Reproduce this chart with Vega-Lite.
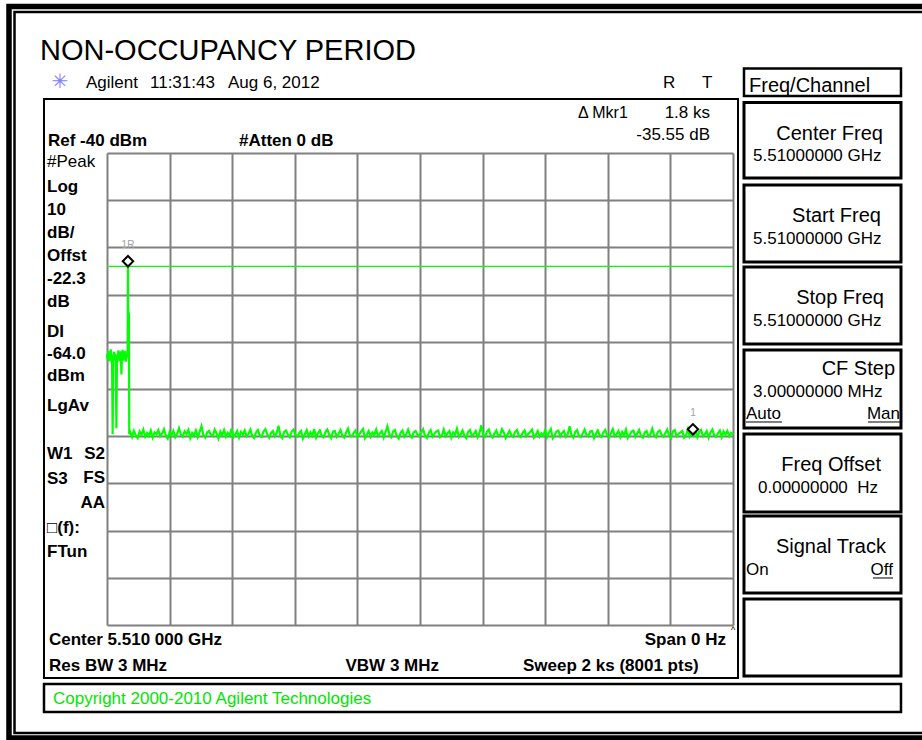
{
"$schema": "https://vega.github.io/schema/vega-lite/v6.json",
"width": 626, "height": 472,
"autosize": {"type": "none"},
"padding": {"left": 107, "top": 153, "right": 189, "bottom": 115},
"background": "white",
"config": {
  "view": {"stroke": null},
  "font": "Liberation Sans",
  "text": {"font": "Liberation Sans", "fontSize": 17, "baseline": "alphabetic", "align": "left", "color": "#000000"},
  "axis": {"labels": false, "ticks": false, "domain": false, "grid": true, "gridColor": "#808080", "gridWidth": 2, "gridOpacity": 1, "titleOpacity": 0}
},
"layer": [
  {
    "data": {"values": [{"level": -64}]},
    "mark": {"type": "rule", "color": "#00ff00", "strokeWidth": 1.2},
    "encoding": {"y": {"field": "level", "type": "quantitative", "scale": {"domain": [-140, -40], "nice": false, "zero": false}}}
  },
  {
    "data": {"values": [
{"t":0,"v":-82.6},{"t":2,"v":-83.8},{"t":4,"v":-81.9},{"t":6,"v":-84.1},{"t":8,"v":-82.7},{"t":10,"v":-83.5},{"t":12,"v":-81.6},{"t":14,"v":-84.3},{"t":16,"v":-82.9},{"t":18,"v":-99.6},{"t":20,"v":-83.2},{"t":22,"v":-82.1},{"t":24,"v":-84.0},{"t":26,"v":-82.5},{"t":28,"v":-83.6},{"t":30,"v":-98.3},{"t":32,"v":-82.8},{"t":34,"v":-84.2},{"t":36,"v":-81.8},{"t":38,"v":-83.4},{"t":40,"v":-82.3},{"t":42,"v":-84.1},{"t":44,"v":-82.0},{"t":46,"v":-86.9},{"t":48,"v":-83.0},{"t":50,"v":-81.7},{"t":52,"v":-84.0},{"t":54,"v":-82.6},{"t":56,"v":-83.7},{"t":58,"v":-81.9},{"t":60,"v":-84.2},{"t":62,"v":-82.8},{"t":64,"v":-83.3},{"t":66,"v":-82.4},{"t":67,"v":-64.0},{"t":68,"v":-83.1},{"t":69,"v":-82.7},{"t":70,"v":-73.8},{"t":71,"v":-99.6},
{"t":74,"v":-99.1},{"t":80,"v":-100.2},{"t":86,"v":-98.9},{"t":92,"v":-99.8},{"t":98,"v":-100.4},{"t":104,"v":-99.0},{"t":110,"v":-99.7},{"t":116,"v":-98.6},{"t":122,"v":-100.1},{"t":128,"v":-99.3},
{"t":134,"v":-99.9},{"t":140,"v":-98.8},{"t":146,"v":-100.3},{"t":152,"v":-99.2},{"t":158,"v":-99.6},{"t":164,"v":-98.7},{"t":170,"v":-100.0},{"t":176,"v":-99.4},{"t":182,"v":-98.5},{"t":188,"v":-99.9},
{"t":194,"v":-100.5},{"t":200,"v":-99.1},{"t":206,"v":-99.8},{"t":212,"v":-98.9},{"t":218,"v":-100.2},{"t":224,"v":-99.5},{"t":230,"v":-98.3},{"t":236,"v":-99.7},{"t":242,"v":-100.1},{"t":248,"v":-99.0},
{"t":254,"v":-99.6},{"t":260,"v":-98.7},{"t":266,"v":-100.4},{"t":272,"v":-99.3},{"t":278,"v":-99.9},{"t":284,"v":-98.8},{"t":290,"v":-100.2},{"t":296,"v":-99.1},{"t":302,"v":-97.9},{"t":308,"v":-99.8},
{"t":314,"v":-100.3},{"t":320,"v":-99.2},{"t":326,"v":-98.9},{"t":332,"v":-99.7},{"t":338,"v":-100.0},{"t":344,"v":-98.6},{"t":350,"v":-99.4},{"t":356,"v":-100.5},{"t":362,"v":-99.0},{"t":368,"v":-99.8},
{"t":374,"v":-98.7},{"t":380,"v":-100.1},{"t":386,"v":-99.3},{"t":392,"v":-99.9},{"t":398,"v":-98.4},{"t":404,"v":-100.2},{"t":410,"v":-99.6},{"t":416,"v":-98.9},{"t":422,"v":-100.3},{"t":428,"v":-99.1},
{"t":434,"v":-99.7},{"t":440,"v":-98.8},{"t":446,"v":-100.0},{"t":452,"v":-99.5},{"t":458,"v":-98.6},{"t":464,"v":-99.9},{"t":470,"v":-100.4},{"t":476,"v":-99.2},{"t":482,"v":-98.7},{"t":488,"v":-99.8},
{"t":494,"v":-100.1},{"t":500,"v":-99.0},{"t":506,"v":-98.5},{"t":512,"v":-99.6},{"t":518,"v":-100.3},{"t":524,"v":-99.3},{"t":530,"v":-98.9},{"t":536,"v":-100.0},{"t":542,"v":-99.4},{"t":548,"v":-97.8},
{"t":554,"v":-99.9},{"t":560,"v":-100.4},{"t":566,"v":-99.1},{"t":572,"v":-98.8},{"t":578,"v":-99.7},{"t":584,"v":-100.2},{"t":590,"v":-99.0},{"t":596,"v":-98.6},{"t":602,"v":-99.8},{"t":608,"v":-100.1},
{"t":614,"v":-99.3},{"t":620,"v":-98.9},{"t":626,"v":-100.5},{"t":632,"v":-99.6},{"t":638,"v":-98.7},{"t":644,"v":-100.0},{"t":650,"v":-99.2},{"t":656,"v":-99.9},{"t":662,"v":-98.5},{"t":668,"v":-100.3},
{"t":674,"v":-99.4},{"t":680,"v":-98.8},{"t":686,"v":-99.9},{"t":692,"v":-100.2},{"t":698,"v":-99.1},{"t":704,"v":-98.6},{"t":710,"v":-99.7},{"t":716,"v":-100.4},{"t":722,"v":-99.0},{"t":728,"v":-98.9},
{"t":734,"v":-100.1},{"t":740,"v":-99.5},{"t":746,"v":-98.7},{"t":752,"v":-99.8},{"t":758,"v":-100.3},{"t":764,"v":-99.2},{"t":770,"v":-98.4},{"t":776,"v":-99.9},{"t":782,"v":-100.0},{"t":788,"v":-99.3},
{"t":794,"v":-98.8},{"t":800,"v":-100.2},{"t":806,"v":-99.6},{"t":812,"v":-99.0},{"t":818,"v":-98.5},{"t":824,"v":-100.4},{"t":830,"v":-99.7},{"t":836,"v":-98.9},{"t":842,"v":-100.1},{"t":848,"v":-99.2},
{"t":854,"v":-99.8},{"t":860,"v":-98.6},{"t":866,"v":-100.0},{"t":872,"v":-99.4},{"t":878,"v":-98.9},{"t":884,"v":-100.3},{"t":890,"v":-99.1},{"t":896,"v":-97.9},{"t":902,"v":-99.7},{"t":908,"v":-100.2},
{"t":914,"v":-99.0},{"t":920,"v":-98.7},{"t":926,"v":-99.9},{"t":932,"v":-100.5},{"t":938,"v":-99.3},{"t":944,"v":-98.8},{"t":950,"v":-100.1},{"t":956,"v":-99.6},{"t":962,"v":-98.6},{"t":968,"v":-99.8},
{"t":974,"v":-100.3},{"t":980,"v":-99.2},{"t":986,"v":-98.9},{"t":992,"v":-99.7},{"t":998,"v":-100.0},{"t":1004,"v":-99.1},{"t":1010,"v":-98.5},{"t":1016,"v":-99.9},{"t":1022,"v":-100.4},{"t":1028,"v":-99.3},
{"t":1034,"v":-98.7},{"t":1040,"v":-100.1},{"t":1046,"v":-99.5},{"t":1052,"v":-99.0},{"t":1058,"v":-98.8},{"t":1064,"v":-100.2},{"t":1070,"v":-99.8},{"t":1076,"v":-98.6},{"t":1082,"v":-100.0},{"t":1088,"v":-99.4},
{"t":1094,"v":-98.9},{"t":1100,"v":-100.3},{"t":1106,"v":-99.2},{"t":1112,"v":-99.7},{"t":1118,"v":-98.4},{"t":1124,"v":-100.1},{"t":1130,"v":-99.6},{"t":1136,"v":-98.8},{"t":1142,"v":-99.9},{"t":1148,"v":-100.4},
{"t":1154,"v":-99.1},{"t":1160,"v":-98.7},{"t":1166,"v":-100.0},{"t":1172,"v":-99.5},{"t":1178,"v":-98.9},{"t":1184,"v":-100.2},{"t":1190,"v":-99.3},{"t":1196,"v":-97.7},{"t":1202,"v":-99.8},{"t":1208,"v":-100.1},
{"t":1214,"v":-99.0},{"t":1220,"v":-98.6},{"t":1226,"v":-99.9},{"t":1232,"v":-100.3},{"t":1238,"v":-99.4},{"t":1244,"v":-98.8},{"t":1250,"v":-100.0},{"t":1256,"v":-99.7},{"t":1262,"v":-98.5},{"t":1268,"v":-99.2},
{"t":1274,"v":-100.4},{"t":1280,"v":-99.6},{"t":1286,"v":-98.9},{"t":1292,"v":-99.8},{"t":1298,"v":-100.1},{"t":1304,"v":-99.1},{"t":1310,"v":-98.7},{"t":1316,"v":-99.9},{"t":1322,"v":-100.2},{"t":1328,"v":-99.3},
{"t":1334,"v":-98.8},{"t":1340,"v":-100.0},{"t":1346,"v":-99.5},{"t":1352,"v":-99.1},{"t":1358,"v":-98.6},{"t":1364,"v":-100.3},{"t":1370,"v":-99.7},{"t":1376,"v":-98.9},{"t":1382,"v":-100.1},{"t":1388,"v":-99.4},
{"t":1394,"v":-99.9},{"t":1400,"v":-98.7},{"t":1406,"v":-100.2},{"t":1412,"v":-99.2},{"t":1418,"v":-98.5},{"t":1424,"v":-100.4},{"t":1430,"v":-99.8},{"t":1436,"v":-99.0},{"t":1442,"v":-98.8},{"t":1448,"v":-100.0},
{"t":1454,"v":-99.3},{"t":1460,"v":-98.9},{"t":1466,"v":-100.1},{"t":1472,"v":-99.6},{"t":1478,"v":-97.9},{"t":1484,"v":-99.8},{"t":1490,"v":-100.3},{"t":1496,"v":-99.1},{"t":1502,"v":-98.7},{"t":1508,"v":-99.9},
{"t":1514,"v":-100.2},{"t":1520,"v":-99.4},{"t":1526,"v":-98.6},{"t":1532,"v":-99.7},{"t":1538,"v":-100.0},{"t":1544,"v":-99.0},{"t":1550,"v":-98.9},{"t":1556,"v":-100.4},{"t":1562,"v":-99.5},{"t":1568,"v":-98.8},
{"t":1574,"v":-99.8},{"t":1580,"v":-100.1},{"t":1586,"v":-99.2},{"t":1592,"v":-98.7},{"t":1598,"v":-99.9},{"t":1604,"v":-100.3},{"t":1610,"v":-99.3},{"t":1616,"v":-98.5},{"t":1622,"v":-100.0},{"t":1628,"v":-99.6},
{"t":1634,"v":-98.9},{"t":1640,"v":-100.2},{"t":1646,"v":-99.1},{"t":1652,"v":-99.8},{"t":1658,"v":-98.6},{"t":1664,"v":-100.4},{"t":1670,"v":-99.7},{"t":1676,"v":-99.0},{"t":1682,"v":-98.8},{"t":1688,"v":-100.1},
{"t":1694,"v":-99.4},{"t":1700,"v":-98.7},{"t":1706,"v":-99.9},{"t":1712,"v":-100.3},{"t":1718,"v":-99.2},{"t":1724,"v":-98.9},{"t":1730,"v":-100.0},{"t":1736,"v":-99.6},{"t":1742,"v":-98.4},{"t":1748,"v":-99.8},
{"t":1754,"v":-100.2},{"t":1760,"v":-99.1},{"t":1766,"v":-98.8},{"t":1772,"v":-99.7},{"t":1778,"v":-100.1},{"t":1784,"v":-99.3},{"t":1790,"v":-98.6},{"t":1796,"v":-99.9},{"t":1802,"v":-100.4},{"t":1808,"v":-99.0},
{"t":1814,"v":-98.7},{"t":1820,"v":-100.0},{"t":1826,"v":-99.5},{"t":1832,"v":-99.2},{"t":1838,"v":-98.9},{"t":1844,"v":-100.3},{"t":1850,"v":-99.8},{"t":1856,"v":-98.5},{"t":1862,"v":-100.1},{"t":1868,"v":-99.4},
{"t":1874,"v":-99.9},{"t":1880,"v":-98.8},{"t":1886,"v":-100.2},{"t":1892,"v":-99.1},{"t":1898,"v":-98.7},{"t":1904,"v":-100.0},{"t":1910,"v":-99.6},{"t":1916,"v":-98.9},{"t":1922,"v":-100.3},{"t":1928,"v":-99.2},
{"t":1934,"v":-98.6},{"t":1940,"v":-99.8},{"t":1946,"v":-100.1},{"t":1952,"v":-99.4},{"t":1958,"v":-98.8},{"t":1964,"v":-100.2},{"t":1970,"v":-99.0},{"t":1976,"v":-99.7},{"t":1982,"v":-98.9},{"t":1988,"v":-100.0},
{"t":1994,"v":-99.3},{"t":2000,"v":-99.6}
    ]},
    "mark": {"type": "line", "color": "#00ff00", "strokeWidth": 2.2, "interpolate": "linear"},
    "encoding": {
      "x": {"field": "t", "type": "quantitative", "title": null, "scale": {"domain": [0, 2000], "nice": false, "zero": false}, "axis": {"values": [0,200,400,600,800,1000,1200,1400,1600,1800,2000], "title": null}},
      "y": {"field": "v", "type": "quantitative", "title": null, "scale": {"domain": [-140, -40], "nice": false, "zero": false}, "axis": {"values": [-140,-130,-120,-110,-100,-90,-80,-70,-60,-50,-40], "title": null}}
    }
  },
  {
    "data": {"values": [{"t": 67, "v": -64.0, "label": "1R"}, {"t": 1872, "v": -99.6, "label": "1"}]},
    "layer": [
      {"mark": {"type": "point", "shape": "diamond", "size": 110, "filled": true, "fill": "#ffffff", "stroke": "#000000", "strokeWidth": 2, "opacity": 1, "yOffset": -5},
       "encoding": {"x": {"field": "t", "type": "quantitative"}, "y": {"field": "v", "type": "quantitative"}}},
      {"mark": {"type": "text", "dy": -21, "fontSize": 10, "color": "#a0a0a0", "align": "center", "baseline": "middle"},
       "encoding": {"x": {"field": "t", "type": "quantitative"}, "y": {"field": "v", "type": "quantitative"}, "text": {"field": "label"}}}
    ]
  },
  {
    "data": {"values": [{}]},
    "layer": [
      {"mark": {"type": "rect", "filled": false, "stroke": "#000000", "strokeWidth": 5.5}, "encoding": {"x": {"datum": -313.1}, "x2": {"datum": 2645.4}, "y": {"datum": -8.96}, "y2": {"datum": -163.94}}},
      {"mark": {"type": "rect", "filled": false, "stroke": "#000000", "strokeWidth": 2.5}, "encoding": {"x": {"datum": -295.5}, "x2": {"datum": 2645.4}, "y": {"datum": -10.13}, "y2": {"datum": -162.88}}},
      {"mark": {"type": "rect", "filled": false, "stroke": "#000000", "strokeWidth": 2}, "encoding": {"x": {"datum": -201.3}, "x2": {"datum": 2016.0}, "y": {"datum": -28.56}, "y2": {"datum": -151.23}}},
      {"mark": {"type": "rect", "filled": false, "stroke": "#000000", "strokeWidth": 2.5}, "encoding": {"x": {"datum": 2035.1}, "x2": {"datum": 2536.7}, "y": {"datum": -22.10}, "y2": {"datum": -27.92}}},
      {"mark": {"type": "rect", "filled": false, "stroke": "#000000", "strokeWidth": 3}, "encoding": {"x": {"datum": 2035.1}, "x2": {"datum": 2536.7}, "y": {"datum": -29.30}, "y2": {"datum": -45.30}}},
      {"mark": {"type": "rect", "filled": false, "stroke": "#000000", "strokeWidth": 3}, "encoding": {"x": {"datum": 2035.1}, "x2": {"datum": 2536.7}, "y": {"datum": -46.78}, "y2": {"datum": -63.09}}},
      {"mark": {"type": "rect", "filled": false, "stroke": "#000000", "strokeWidth": 3}, "encoding": {"x": {"datum": 2035.1}, "x2": {"datum": 2536.7}, "y": {"datum": -64.15}, "y2": {"datum": -80.47}}},
      {"mark": {"type": "rect", "filled": false, "stroke": "#000000", "strokeWidth": 3}, "encoding": {"x": {"datum": 2035.1}, "x2": {"datum": 2536.7}, "y": {"datum": -81.74}, "y2": {"datum": -98.26}}},
      {"mark": {"type": "rect", "filled": false, "stroke": "#000000", "strokeWidth": 3}, "encoding": {"x": {"datum": 2035.1}, "x2": {"datum": 2536.7}, "y": {"datum": -99.53}, "y2": {"datum": -116.06}}},
      {"mark": {"type": "rect", "filled": false, "stroke": "#000000", "strokeWidth": 3}, "encoding": {"x": {"datum": 2035.1}, "x2": {"datum": 2536.7}, "y": {"datum": -116.91}, "y2": {"datum": -133.22}}},
      {"mark": {"type": "rect", "filled": false, "stroke": "#000000", "strokeWidth": 3}, "encoding": {"x": {"datum": 2035.1}, "x2": {"datum": 2536.7}, "y": {"datum": -134.49}, "y2": {"datum": -150.81}}},
      {"mark": {"type": "rect", "filled": false, "stroke": "#000000", "strokeWidth": 2.5}, "encoding": {"x": {"datum": -201.3}, "x2": {"datum": 2536.7}, "y": {"datum": -152.50}, "y2": {"datum": -158.43}}},

      {"mark": {"type": "text", "text": "NON-OCCUPANCY PERIOD", "fontSize": 29}, "encoding": {"x": {"datum": -214.06}, "y": {"datum": -20.30}}},
      {"mark": {"type": "text", "text": "✳", "font": "DejaVu Sans", "fontSize": 20, "color": "#8080ff", "align": "center", "baseline": "middle"}, "encoding": {"x": {"datum": -150.16}, "y": {"datum": -24.96}}},
      {"mark": {"type": "text", "text": "Agilent"}, "encoding": {"x": {"datum": -67.09}, "y": {"datum": -26.23}}},
      {"mark": {"type": "text", "text": "11:31:43"}, "encoding": {"x": {"datum": 137.38}, "y": {"datum": -26.23}}},
      {"mark": {"type": "text", "text": "Aug 6, 2012"}, "encoding": {"x": {"datum": 386.58}, "y": {"datum": -26.23}}},
      {"mark": {"type": "text", "text": "R"}, "encoding": {"x": {"datum": 1776.4}, "y": {"datum": -26.23}}},
      {"mark": {"type": "text", "text": "T"}, "encoding": {"x": {"datum": 1900.96}, "y": {"datum": -26.23}}},
      {"mark": {"type": "text", "text": "Δ Mkr1", "fontSize": 16}, "encoding": {"x": {"datum": 1504.8}, "y": {"datum": -32.58}}},
      {"mark": {"type": "text", "text": "1.8 ks", "align": "right"}, "encoding": {"x": {"datum": 1926.52}, "y": {"datum": -32.58}}},
      {"mark": {"type": "text", "text": "-35.55 dB", "align": "right"}, "encoding": {"x": {"datum": 1926.52}, "y": {"datum": -37.25}}},
      {"mark": {"type": "text", "text": "Ref -40 dBm", "fontWeight": "bold"}, "encoding": {"x": {"datum": -188.50}, "y": {"datum": -38.52}}},
      {"mark": {"type": "text", "text": "#Atten 0 dB", "fontWeight": "bold"}, "encoding": {"x": {"datum": 421.73}, "y": {"datum": -38.52}}},
      {"mark": {"type": "text", "text": "#Peak"}, "encoding": {"x": {"datum": -191.69}, "y": {"datum": -42.97}}},
      {"mark": {"type": "text", "text": ["Log", "10", "dB/", "Offst", "-22.3", "dB"], "fontWeight": "bold", "lineHeight": 23}, "encoding": {"x": {"datum": -191.69}, "y": {"datum": -48.26}}},
      {"mark": {"type": "text", "text": ["DI", "-64.0", "dBm"], "fontWeight": "bold", "lineHeight": 22}, "encoding": {"x": {"datum": -191.69}, "y": {"datum": -78.98}}},
      {"mark": {"type": "text", "text": "LgAv", "fontWeight": "bold"}, "encoding": {"x": {"datum": -191.69}, "y": {"datum": -94.66}}},
      {"mark": {"type": "text", "text": ["W1", "S3"], "fontWeight": "bold", "lineHeight": 25}, "encoding": {"x": {"datum": -191.69}, "y": {"datum": -104.83}}},
      {"mark": {"type": "text", "text": ["S2", "FS", "AA"], "fontWeight": "bold", "lineHeight": 24.5, "align": "right"}, "encoding": {"x": {"datum": -6.39}, "y": {"datum": -104.83}}},
      {"mark": {"type": "text", "text": ["□(f):", "FTun"], "fontWeight": "bold", "lineHeight": 24}, "encoding": {"x": {"datum": -191.69}, "y": {"datum": -120.51}}},
      {"mark": {"type": "text", "text": "Center 5.510 000 GHz", "fontWeight": "bold"}, "encoding": {"x": {"datum": -185.30}, "y": {"datum": -144.24}}},
      {"mark": {"type": "text", "text": "Span 0 Hz", "fontWeight": "bold", "align": "right"}, "encoding": {"x": {"datum": 1977.64}, "y": {"datum": -144.24}}},
      {"mark": {"type": "text", "text": "^", "fontSize": 9}, "encoding": {"x": {"datum": 1993.61}, "y": {"datum": -141.69}}},
      {"mark": {"type": "text", "text": "Res BW 3 MHz", "fontWeight": "bold"}, "encoding": {"x": {"datum": -185.30}, "y": {"datum": -149.75}}},
      {"mark": {"type": "text", "text": "VBW 3 MHz", "fontWeight": "bold", "align": "right"}, "encoding": {"x": {"datum": 1060.70}, "y": {"datum": -149.75}}},
      {"mark": {"type": "text", "text": "Sweep 2 ks (8001 pts)", "fontWeight": "bold"}, "encoding": {"x": {"datum": 1329.07}, "y": {"datum": -149.75}}},
      {"mark": {"type": "text", "text": "Copyright 2000-2010 Agilent Technologies", "color": "#00e600"}, "encoding": {"x": {"datum": -172.52}, "y": {"datum": -156.74}}},
      {"mark": {"type": "text", "text": "Freq/Channel", "fontSize": 20}, "encoding": {"x": {"datum": 2051.12}, "y": {"datum": -27.08}}},
      {"mark": {"type": "text", "text": "Center Freq", "fontSize": 20, "align": "right"}, "encoding": {"x": {"datum": 2479.23}, "y": {"datum": -37.25}}},
      {"mark": {"type": "text", "text": "5.51000000 GHz"}, "encoding": {"x": {"datum": 2063.90}, "y": {"datum": -41.69}}},
      {"mark": {"type": "text", "text": "Start Freq", "fontSize": 20, "align": "right"}, "encoding": {"x": {"datum": 2472.85}, "y": {"datum": -54.62}}},
      {"mark": {"type": "text", "text": "5.51000000 GHz"}, "encoding": {"x": {"datum": 2063.90}, "y": {"datum": -59.28}}},
      {"mark": {"type": "text", "text": "Stop Freq", "fontSize": 20, "align": "right"}, "encoding": {"x": {"datum": 2482.43}, "y": {"datum": -71.99}}},
      {"mark": {"type": "text", "text": "5.51000000 GHz"}, "encoding": {"x": {"datum": 2063.90}, "y": {"datum": -76.65}}},
      {"mark": {"type": "text", "text": "CF Step", "fontSize": 20, "align": "right"}, "encoding": {"x": {"datum": 2517.57}, "y": {"datum": -87.03}}},
      {"mark": {"type": "text", "text": "3.00000000 MHz"}, "encoding": {"x": {"datum": 2063.90}, "y": {"datum": -91.69}}},
      {"mark": {"type": "text", "text": "Auto"}, "encoding": {"x": {"datum": 2041.53}, "y": {"datum": -96.36}}},
      {"mark": {"type": "text", "text": "Man", "align": "right"}, "encoding": {"x": {"datum": 2533.55}, "y": {"datum": -96.36}}},
      {"mark": {"type": "text", "text": "Freq Offset", "fontSize": 20, "align": "right"}, "encoding": {"x": {"datum": 2472.85}, "y": {"datum": -107.37}}},
      {"mark": {"type": "text", "text": "0.00000000\u00a0 Hz"}, "encoding": {"x": {"datum": 2079.87}, "y": {"datum": -112.03}}},
      {"mark": {"type": "text", "text": "Signal Track", "fontSize": 20, "align": "right"}, "encoding": {"x": {"datum": 2488.82}, "y": {"datum": -124.75}}},
      {"mark": {"type": "text", "text": "On"}, "encoding": {"x": {"datum": 2041.53}, "y": {"datum": -129.41}}},
      {"mark": {"type": "text", "text": "Off", "align": "right"}, "encoding": {"x": {"datum": 2511.18}, "y": {"datum": -129.41}}},
      {"mark": {"type": "rule", "color": "#000000", "strokeWidth": 1}, "encoding": {"x": {"datum": 2041.53}, "x2": {"datum": 2156.55}, "y": {"datum": -96.99}}},
      {"mark": {"type": "rule", "color": "#000000", "strokeWidth": 1}, "encoding": {"x": {"datum": 2431.31}, "x2": {"datum": 2536.74}, "y": {"datum": -96.99}}},
      {"mark": {"type": "rule", "color": "#000000", "strokeWidth": 1}, "encoding": {"x": {"datum": 2447.28}, "x2": {"datum": 2511.18}, "y": {"datum": -130.04}}}
    ]
  }
]
}
